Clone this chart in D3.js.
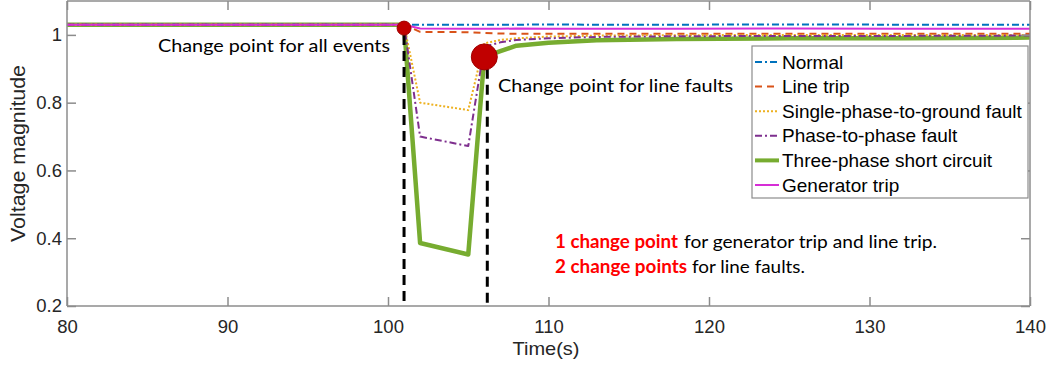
<!DOCTYPE html>
<meta charset="utf-8">
<head>
<script src="https://d3js.org/d3.v7.min.js"></script>
<style>
  body { margin: 0; background: #fff; font-family: Arial, "Liberation Sans", sans-serif; }
  .axis text { font-family: Arial, "Liberation Sans", sans-serif; font-size: 18.5px; fill: #262626; }
  .note { font-family: Lato, "Open Sans", sans-serif; font-size: 18px; fill: #000; }
</style>
</head>
<body>
<svg></svg>
<script>
// Data
var time = [80, 90, 100, 101, 102, 105, 106, 107, 108, 110, 113, 118, 125, 132, 140];

var normal     = [1.03, 1.03, 1.03, 1.03, 1.03, 1.03, 1.03, 1.03, 1.03, 1.031, 1.03, 1.03, 1.031, 1.03, 1.03];
var lineTrip   = [1.03, 1.03, 1.03, 1.03, 1.009, 1.008, 1.006, 1.004, 1.003, 1.003, 1.003, 1.003, 1.003, 1.003, 1.003];
var singlePhase= [1.03, 1.03, 1.03, 1.03, 0.80, 0.778, 0.975, 0.985, 0.99, 0.995, 0.998, 0.999, 1.0, 1.0, 1.0];
var phasePhase = [1.03, 1.03, 1.03, 1.03, 0.70, 0.672, 0.965, 0.978, 0.985, 0.99, 0.994, 0.996, 0.997, 0.997, 0.998];
var threePhase = [1.03, 1.03, 1.03, 1.03, 0.386, 0.352, 0.935, 0.952, 0.968, 0.977, 0.984, 0.988, 0.99, 0.99, 0.992];
var genTrip    = [1.03, 1.03, 1.03, 1.03, 1.019, 1.018, 1.018, 1.018, 1.019, 1.018, 1.018, 1.018, 1.019, 1.018, 1.018];

var seriesNames = ["Normal", "Line trip", "Single-phase-to-ground fault", "Phase-to-phase fault", "Three-phase short circuit", "Generator trip"];
var xTicks = [80, 90, 100, 110, 120, 130, 140];
var yTicks = [0.2, 0.4, 0.6, 0.8, 1];
var changePoints = [{t: 101, v: 1.02, r: 7, top: 1.0}, {t: 106, v: 0.935, r: 13, top: 0.9}];

var series = [
  {name: seriesNames[0], values: normal,      color: "#0072BD", width: 2,   dash: "7,3,2,3"},
  {name: seriesNames[1], values: lineTrip,    color: "#D95319", width: 2,   dash: "7,5"},
  {name: seriesNames[2], values: singlePhase, color: "#EDB120", width: 2,   dash: "2,2"},
  {name: seriesNames[3], values: phasePhase,  color: "#7E2F8E", width: 2,   dash: "7,3,2,3"},
  {name: seriesNames[4], values: threePhase,  color: "#77AC30", width: 4.5, dash: null},
  {name: seriesNames[5], values: genTrip,     color: "#D62ED6", width: 2,   dash: null}
];

var width = 1050, height = 372;
var margin = {left: 67, right: 20, top: 1, bottom: 66};

var svg = d3.select("svg").attr("width", width).attr("height", height);

var x = d3.scaleLinear().domain([80, 140]).range([margin.left, width - margin.right]);
var y = d3.scaleLinear().domain([0.2, 1.1]).range([height - margin.bottom, margin.top]);

var line = d3.line()
  .x(function(d, i) { return x(time[i]); })
  .y(function(d) { return y(d); });

// green goes first so the thin ones sit on top of it
var drawOrder = [4, 0, 1, 2, 3, 5];
svg.append("g").selectAll("path")
  .data(drawOrder.map(function(i) { return series[i]; }))
  .enter().append("path")
  .attr("d", function(d) { return line(d.values); })
  .attr("fill", "none")
  .attr("stroke", function(d) { return d.color; })
  .attr("stroke-width", function(d) { return d.width; })
  .attr("stroke-dasharray", function(d) { return d.dash; })
  .attr("stroke-linejoin", "round");

// axes, box style with inward ticks
var axisColor = "#8c8c8c";
var xb = svg.append("g").attr("class", "axis")
  .attr("transform", "translate(0," + y(0.2) + ")")
  .call(d3.axisBottom(x).tickValues(xTicks).tickSize(-9).tickPadding(14).tickFormat(d3.format("d")));
var xt = svg.append("g").attr("class", "axis")
  .attr("transform", "translate(0," + y(1.1) + ")")
  .call(d3.axisTop(x).tickValues(xTicks).tickSize(-9).tickFormat(""));
var yl = svg.append("g").attr("class", "axis")
  .attr("transform", "translate(" + x(80) + ",0)")
  .call(d3.axisLeft(y).tickValues(yTicks).tickSize(-9).tickPadding(5).tickFormat(function(d) { return d === 1 ? "1" : d3.format(".1f")(d); }));
var yr = svg.append("g").attr("class", "axis")
  .attr("transform", "translate(" + x(140) + ",0)")
  .call(d3.axisRight(y).tickValues(yTicks).tickSize(-9).tickFormat(""));
[xb, xt, yl, yr].forEach(function(a) {
  a.selectAll("path, line").attr("stroke", axisColor).attr("stroke-width", 1.5);
  a.select(".domain").attr("d", a === xb || a === xt
    ? "M" + x(80) + ",0H" + x(140)
    : "M0," + y(1.1) + "V" + y(0.2));
});

svg.append("text")
  .attr("x", 546).attr("y", 355)
  .attr("text-anchor", "middle")
  .attr("textLength", 67).attr("lengthAdjust", "spacingAndGlyphs")
  .style("font-size", "19px").style("fill", "#262626")
  .text("Time(s)");
svg.append("text")
  .attr("transform", "translate(25,153.5) rotate(-90)")
  .attr("text-anchor", "middle")
  .attr("textLength", 177).attr("lengthAdjust", "spacingAndGlyphs")
  .style("font-size", "20px").style("fill", "#262626")
  .text("Voltage magnitude");

// change point markers
svg.append("g").selectAll("line")
  .data(changePoints).enter().append("line")
  .attr("x1", function(d) { return x(d.t) + (d.r > 10 ? 3 : 0); })
  .attr("x2", function(d) { return x(d.t) + (d.r > 10 ? 3 : 0); })
  .attr("y1", function(d) { return y(d.top); })
  .attr("y2", y(0.2))
  .attr("stroke", "#000").attr("stroke-width", 3).attr("stroke-dasharray", "10,6");

svg.append("g").selectAll("circle")
  .data(changePoints).enter().append("circle")
  .attr("cx", function(d) { return x(d.t); })
  .attr("cy", function(d) { return y(d.v); })
  .attr("r", function(d) { return d.r; })
  .attr("fill", "#c00000").attr("stroke", "#a00000").attr("stroke-width", 1);

// annotations
function note(tx, ty, len, txt, red) {
  var t = svg.append("text").attr("class", "note")
    .attr("x", tx).attr("y", ty)
    .attr("textLength", len).attr("lengthAdjust", "spacingAndGlyphs")
    .text(txt);
  if (red) t.style("fill", "#ff0000").style("font-weight", "bold");
  return t;
}
note(158, 52, 232, "Change point for all events");
note(498, 92, 235, "Change point for line faults");
note(555, 248, 123, "1 change point", true);
note(684, 248, 253, "for generator trip and line trip.");
note(555, 273, 132, "2 change points", true);
note(692, 273, 113, "for line faults.");

// legend
var lg = svg.append("g").attr("transform", "translate(752,46)");
lg.append("rect").attr("width", 276).attr("height", 152)
  .attr("fill", "#fff").attr("stroke", "#8c8c8c").attr("stroke-width", 1.2);
var item = lg.selectAll("g.item").data(series).enter().append("g")
  .attr("class", "item")
  .attr("transform", function(d, i) { return "translate(0," + (16 + i * 24.6) + ")"; });
item.append("line")
  .attr("x1", 3).attr("x2", 27)
  .attr("stroke", function(d) { return d.color; })
  .attr("stroke-width", function(d) { return d.width > 3 ? 4 : 2; })
  .attr("stroke-dasharray", function(d) { return d.dash; });
item.append("text")
  .attr("x", 30).attr("dy", "0.35em")
  .style("font-size", "19px").style("fill", "#000")
  .text(function(d) { return d.name; });
</script>
</body>
</html>
